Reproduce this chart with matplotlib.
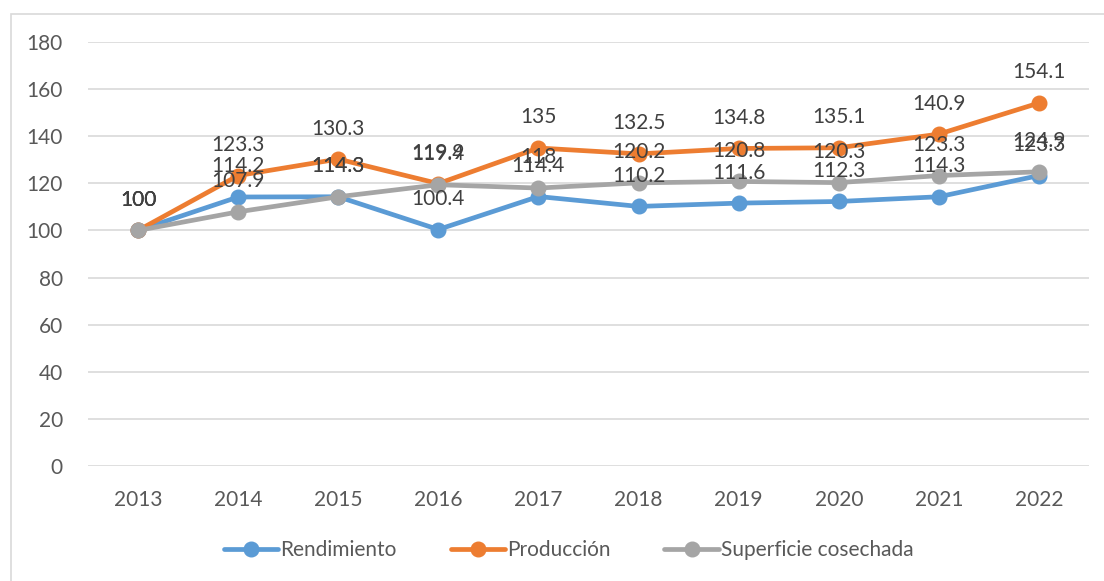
import matplotlib.pyplot as plt
from matplotlib.patches import Rectangle

years = ["2013", "2014", "2015", "2016", "2017", "2018", "2019", "2020", "2021", "2022"]
rendimiento = [100, 114.2, 114.3, 100.4, 114.4, 110.2, 111.6, 112.3, 114.3, 123.3]
produccion = [100, 123.3, 130.3, 119.9, 135, 132.5, 134.8, 135.1, 140.9, 154.1]
superficie = [100, 107.9, 114.3, 119.4, 118, 120.2, 120.8, 120.3, 123.3, 124.9]

series = [
    ("Rendimiento", rendimiento, "#5B9BD5"),
    ("Producción", produccion, "#ED7D31"),
    ("Superficie cosechada", superficie, "#A5A5A5"),
]

plt.rcParams["font.family"] = ["Lato", "DejaVu Sans"]
text_color = "#595959"

fig = plt.figure(figsize=(11.04, 5.81), dpi=100)
ax = fig.add_axes([88 / 1104, 1 - 466 / 581, (1089 - 88) / 1104, (466 - 42) / 581])

x = list(range(len(years)))
for name, vals, color in series:
    ax.plot(x, vals, color=color, lw=3.4, marker="o", ms=10.5,
            label=name, solid_capstyle="round", zorder=3)
    # Excel-style data labels above every point (overlaps are in the original too)
    for xi, v in zip(x, vals):
        ax.annotate(f"{v:g}", (xi, v), xytext=(0, 22), textcoords="offset points",
                    ha="center", va="center", fontsize=15, color="#404040", zorder=4)

ax.set_xlim(-0.5, len(years) - 0.5)
ax.set_ylim(0, 180)
ax.set_yticks(range(0, 181, 20))
ax.set_xticks(x)
ax.set_xticklabels(years)
ax.grid(axis="y", color="#D9D9D9", lw=1.2)
ax.set_axisbelow(True)
for s in ax.spines.values():
    s.set_visible(False)
ax.tick_params(length=0, labelsize=15, colors=text_color)
ax.tick_params(axis="y", pad=18)
ax.tick_params(axis="x", pad=17)

leg = fig.legend(loc="center", bbox_to_anchor=(0.515, 1 - 550 / 581), ncol=3,
                 frameon=False, fontsize=15, handlelength=2.6,
                 columnspacing=2.6, handletextpad=0.1)
for t in leg.get_texts():
    t.set_color(text_color)

fig.patches.append(Rectangle((11 / 1104, -0.05), 1.05, 1 - 14 / 581 + 0.05,
                             transform=fig.transFigure, fill=False,
                             edgecolor="#D9D9D9", lw=1.2))

fig.savefig("out.png", dpi=100)
